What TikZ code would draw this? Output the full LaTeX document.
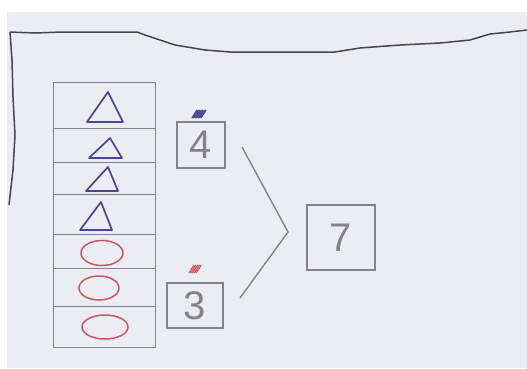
\documentclass[tikz,border=0pt]{standalone}
\usepackage{fontspec}
\setsansfont{Liberation Sans}
\definecolor{paper}{RGB}{236,236,243}
\definecolor{pencil}{RGB}{130,130,135}
\definecolor{ink}{RGB}{70,70,75}
\definecolor{triblue}{RGB}{72,68,150}
\definecolor{circred}{RGB}{208,84,100}
\tikzset{
  rowbox/.style={draw=pencil, line width=1.3pt, minimum width=102pt, inner sep=0pt, anchor=north west},
  numbox/.style={draw=pencil, line width=1.4pt, inner sep=0pt, text=pencil, font=\sffamily\fontsize{40}{40}\selectfont},
  triline/.style={draw=triblue, line width=1.7pt, line join=round},
  circline/.style={draw=circred, line width=1.5pt},
  tornline/.style={draw=ink, line width=1.5pt, line join=round},
  joinline/.style={draw=pencil, line width=1.4pt},
}
\begin{document}
\begin{tikzpicture}[x=1pt,y=-1pt]
\useasboundingbox (0,0) rectangle (527,368);
\fill[white] (0,0) rectangle (527,368);
\fill[paper] (7,12) rectangle (527,368);
% torn edge lines
\draw[tornline] (10,32) -- (35,33) -- (62,32) -- (137,32) -- (145,35) -- (175,45) -- (205,50) -- (230,52) -- (335,52) -- (360,48) -- (400,45) -- (440,43) -- (470,40) -- (490,34) -- (510,32) -- (527,30);
\draw[tornline] (10,32) -- (12,60) -- (13,97) -- (15,135) -- (13,170) -- (9,205);
% table rows
\node[rowbox, minimum height=46pt] (r1) at (53,82) {};
\node[rowbox, minimum height=34pt] (r2) at (53,128) {};
\node[rowbox, minimum height=32pt] (r3) at (53,162) {};
\node[rowbox, minimum height=40pt] (r4) at (53,194) {};
\node[rowbox, minimum height=34pt] (r5) at (53,234) {};
\node[rowbox, minimum height=38pt] (r6) at (53,268) {};
\node[rowbox, minimum height=41pt] (r7) at (53,306) {};
% triangles
\draw[triline] (108,92) -- (87,122) -- (123,122) -- cycle;
\draw[triline] (110,138) -- (89,158) -- (122,158) -- cycle;
\draw[triline] (108,167) -- (86,191) -- (118,191) -- cycle;
\draw[triline] (101,202) -- (80,230) -- (112,230) -- cycle;
% circles
\draw[circline] (102,253) ellipse [x radius=21, y radius=12.5];
\draw[circline] (99,288) ellipse [x radius=20, y radius=12];
\draw[circline] (105,327) ellipse [x radius=23, y radius=12];
% number boxes
\node[numbox, minimum width=48pt, minimum height=46pt] (b4) at (201,145) {4};
\node[numbox, minimum width=56pt, minimum height=45pt] (b3) at (195,305.5) {3};
\node[numbox, minimum width=68pt, minimum height=65pt] (b7) at (341,237.5) {7};
% scribbles
\foreach \i in {0,1.5,...,9} \draw[triblue, line width=1.3pt] (192+\i,118) -- (197+\i,110);
\foreach \i in {0,1.8,...,9} \draw[circred, line width=1.2pt] (189+\i,273) -- (194+\i,265);
% join lines
\coordinate (v) at (288,232);
\coordinate (j4) at (242,147);
\coordinate (j3) at (240,298);
\draw[joinline] (j4) -- (v) -- (j3);
\end{tikzpicture}
\end{document}
